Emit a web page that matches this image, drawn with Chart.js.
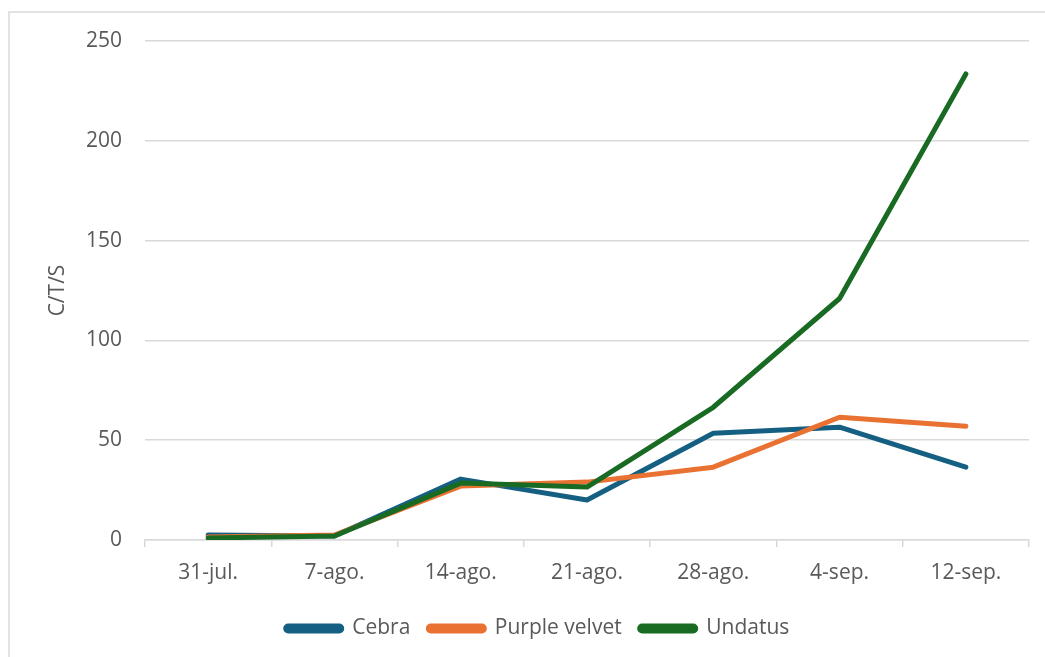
<!DOCTYPE html>
<html>
<head>
<meta charset="utf-8">
<script src="https://cdn.jsdelivr.net/npm/chart.js@4.4.1/dist/chart.umd.min.js"></script>
<style>
  html, body { margin: 0; padding: 0; background: #fff; }
  #wrap { width: 1045px; height: 657px; position: relative; }
</style>
</head>
<body>
<div id="wrap"><canvas id="grafico" width="1045" height="657"></canvas></div>
<script>
// fechas de muestreo
const fechas = ['31-jul.', '7-ago.', '14-ago.', '21-ago.', '28-ago.', '4-sep.', '12-sep.']

// C/T/S por variedad
const cebra = [2.5, 2, 30.5, 20, 53.5, 56.5, 36.5]
const purpleVelvet = [1.5, 2.5, 27, 29, 36.5, 61.5, 57]
const undatus = [1, 2, 28.5, 26.5, 66.5, 121, 233.5]

const ejeY = { min: 0, max: 250, paso: 50, titulo: 'C/T/S' }

const gris = '#595959'
const lineaGris = '#d9d9d9'
const fuente = '"Open Sans", Roboto, sans-serif'
const tam = 21

Chart.defaults.font.family = fuente
Chart.defaults.color = gris

// marco exterior como en el grafico de Excel
const marco = {
  id: 'marco',
  beforeDraw(chart) {
    const ctx = chart.ctx
    ctx.save()
    ctx.fillStyle = '#fff'
    ctx.fillRect(0, 0, chart.width, chart.height)
    ctx.strokeStyle = lineaGris
    ctx.lineWidth = 1.5
    ctx.beginPath()
    ctx.moveTo(9, chart.height)
    ctx.lineTo(9, 12)
    ctx.lineTo(chart.width, 12)
    ctx.stroke()
    ctx.restore()
  }
}

// la leyenda de Excel queda un poco a la derecha
const moverLeyenda = {
  id: 'moverLeyenda',
  afterUpdate(chart) {
    const ley = chart.legend
    ley.left += 23
    ley.right += 23
    ley.legendHitBoxes.forEach(h => { h.left += 23 })
  }
}

function serie(nombre, datos, color, orden) {
  return {
    label: nombre,
    data: datos,
    borderColor: color,
    backgroundColor: color,
    borderWidth: 5,
    borderCapStyle: 'round',
    borderJoinStyle: 'round',
    pointRadius: 0,
    pointHoverRadius: 0,
    tension: 0,
    order: orden
  }
}

const ctx = document.getElementById('grafico').getContext('2d')

new Chart(ctx, {
  type: 'line',
  data: {
    labels: fechas,
    datasets: [
      serie('Cebra', cebra, '#156082', 2),
      serie('Purple velvet', purpleVelvet, '#e97132', 1),
      serie('Undatus', undatus, '#196b24', 0)
    ]
  },
  options: {
    responsive: false,
    animation: false,
    devicePixelRatio: 1,
    layout: { padding: { left: 0, top: 41, right: 16, bottom: 8 } },
    scales: {
      x: {
        offset: true,
        grid: {
          offset: true,
          drawOnChartArea: false,
          drawTicks: true,
          tickLength: 7,
          color: lineaGris,
          lineWidth: 1.5
        },
        border: { color: lineaGris, width: 1.5 },
        ticks: { padding: 13, font: { size: tam }, color: gris, maxRotation: 0 },
        afterFit(scale) { scale.height = 60 }
      },
      y: {
        min: ejeY.min,
        max: ejeY.max,
        ticks: { stepSize: ejeY.paso, padding: 23, font: { size: tam }, color: gris },
        grid: { color: lineaGris, lineWidth: 1.5, drawTicks: false },
        border: { display: false },
        title: {
          display: true,
          text: ejeY.titulo,
          font: { size: tam },
          color: gris,
          padding: { top: 45, bottom: 0 }
        },
        afterFit(scale) { scale.width = 145 }
      }
    },
    plugins: {
      legend: {
        position: 'bottom',
        labels: {
          sort: (a, b) => a.datasetIndex - b.datasetIndex,
          boxWidth: 56,
          boxHeight: 5,
          useBorderRadius: true,
          borderRadius: 2.5,
          padding: 18,
          font: { size: tam },
          color: gris
        }
      },
      tooltip: { enabled: false }
    }
  },
  plugins: [marco, moverLeyenda]
})
</script>
</body>
</html>
